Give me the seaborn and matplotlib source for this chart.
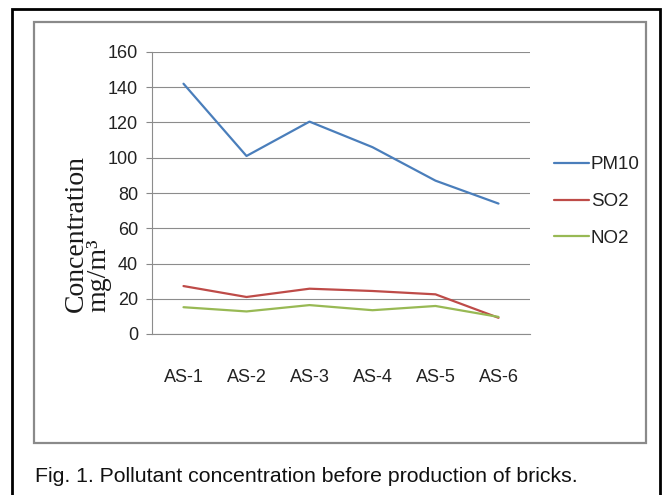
import numpy as np
import pandas as pd
import matplotlib
matplotlib.use('Agg')
import matplotlib.pyplot as plt
import seaborn as sns
from matplotlib.patches import Rectangle

sites = ['AS-1', 'AS-2', 'AS-3', 'AS-4', 'AS-5', 'AS-6']
pm10 = [142, 101, 120.5, 106, 87, 74]
so2 = [27.2, 21, 25.7, 24.4, 22.5, 9.2]
no2 = [15.2, 12.8, 16.4, 13.5, 15.9, 9.7]
yticks = [0, 20, 40, 60, 80, 100, 120, 140, 160]

df = pd.DataFrame({'Site': sites * 3,
                   'Value': pm10 + so2 + no2,
                   'Pollutant': ['PM10'] * 6 + ['SO2'] * 6 + ['NO2'] * 6})
df['x'] = np.tile(np.arange(len(sites)), 3)

sns.set_style('white')
plt.rcParams['font.family'] = ['Liberation Sans Narrow', 'Liberation Sans', 'DejaVu Sans']

fig = plt.figure(figsize=(6.66, 4.95), dpi=100)
ax = fig.add_axes([152/666, 1-334/495, 378/666, 282/495])

palette = {'PM10': '#4a7ebb', 'SO2': '#be4b48', 'NO2': '#98b954'}
sns.lineplot(data=df, x='x', y='Value', hue='Pollutant', palette=palette,
             linewidth=1.6, ax=ax, legend=True)

ax.set_xlim(-0.5, 5.5)
ax.set_ylim(0, 160)
ax.set_yticks(yticks)
ax.set_yticklabels([str(v) for v in yticks], fontsize=13, color='#222222')
ax.set_xticks(range(len(sites)))
ax.set_xticklabels(sites, fontsize=13, color='#222222')
ax.set_xticks(np.arange(-0.5, 6, 1), minor=True)
ax.tick_params(axis='x', which='major', length=0, pad=25)
ax.tick_params(axis='x', which='minor', length=6, color='#888888', width=0.8)
ax.tick_params(axis='y', length=4, color='#888888', width=0.8, left=True, pad=6)
ax.grid(axis='y', color='#8c8c8c', linewidth=0.8)
ax.set_axisbelow(True)
for s in ['top', 'right']:
    ax.spines[s].set_visible(False)
for s in ['left', 'bottom']:
    ax.spines[s].set_color('#8c8c8c')
    ax.spines[s].set_linewidth(0.8)
ax.set_xlabel('')
ax.set_ylabel('')

leg = ax.legend(loc='upper left', bbox_to_anchor=(1.018, 0.69), frameon=False,
                fontsize=13.5, handlelength=1.87, handletextpad=0.1, labelspacing=1.05)
for h in leg.get_lines():
    h.set_linewidth(1.6)
for t in leg.get_texts():
    t.set_color('#222222')

# two-line y label, left aligned like the reference
fig.text(108/666, 1-312/495, 'Concentration\nmg/m³', rotation=90, rotation_mode='anchor',
         ha='left', va='baseline', multialignment='left', linespacing=0.85,
         fontsize=20, family='Liberation Serif', color='#1a1a1a')

fig.patches.append(Rectangle((34/666, 1-443/495), 612/666, 421/495, transform=fig.transFigure,
                             fill=False, edgecolor='#8a8a8a', linewidth=1.6))
fig.patches.append(Rectangle((12/666, -0.05), 648/666, 1.05-9/495, transform=fig.transFigure,
                             fill=False, edgecolor='black', linewidth=2))

fig.text(35/666, 1-476/495, 'Fig. 1. Pollutant concentration before production of bricks.',
         ha='left', va='center', fontsize=15.3, family='Liberation Sans', color='#111111')

fig.savefig('out.png', dpi=100)
